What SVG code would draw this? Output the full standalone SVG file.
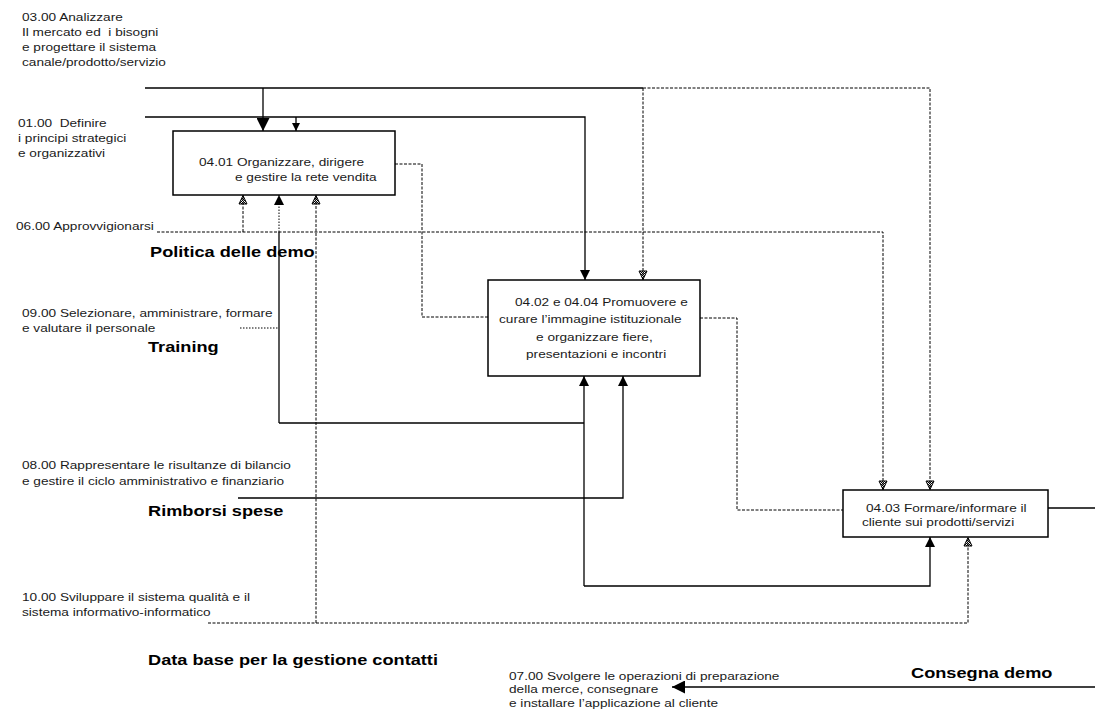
<svg xmlns="http://www.w3.org/2000/svg" width="1095" height="714" viewBox="0 0 1095 714">
<style>
.t{font-family:"Liberation Sans",Arial,sans-serif;font-size:10.5px;fill:#1a1a1a}
.b{font-family:"Liberation Sans",Arial,sans-serif;font-size:14px;font-weight:bold;fill:#000}
.box{fill:#fff;stroke:#000;stroke-width:1.5}
.s{fill:none;stroke:#000;stroke-width:1.3}
.d{fill:none;stroke:#000;stroke-width:1;stroke-dasharray:3 1.5}
.o{fill:none;stroke:#000;stroke-width:1;stroke-dasharray:1.5 1.5}
</style>
<defs>
<pattern id="hatch" patternUnits="userSpaceOnUse" width="2" height="2"><rect x="0" y="0" width="1" height="1" fill="#000"/><rect x="1" y="1" width="1" height="1" fill="#000"/></pattern>
<marker id="aS" viewBox="0 0 10 10" refX="10" refY="5" markerWidth="10" markerHeight="10" markerUnits="userSpaceOnUse" orient="auto"><path d="M0,0L10,5L0,10z" fill="#000"/></marker>
<marker id="aB" viewBox="0 0 10 10" refX="10" refY="5" markerWidth="13" markerHeight="13" markerUnits="userSpaceOnUse" orient="auto"><path d="M0,0L10,5L0,10z" fill="#000"/></marker>
<marker id="aSm" viewBox="0 0 10 10" refX="10" refY="5" markerWidth="8" markerHeight="8" markerUnits="userSpaceOnUse" orient="auto"><path d="M0,0L10,5L0,10z" fill="#000"/></marker>
<marker id="aH" viewBox="0 0 10 10" refX="10" refY="5" markerWidth="10" markerHeight="10" markerUnits="userSpaceOnUse" orient="auto"><path d="M1,1L9.5,5L1,9z" fill="url(#hatch)" stroke="#000" stroke-width="1"/></marker>
</defs>
<rect width="1095" height="714" fill="#fff"/>

<g id="connectors">
<path class="s" d="M145,88H643"/>
<path class="d" d="M643,88H930V490" marker-end="url(#aH)"/>
<path class="d" d="M643,88V280" marker-end="url(#aH)"/>
<path class="s" d="M263,88V131" marker-end="url(#aB)"/>
<path class="s" d="M145,117H585V280" marker-end="url(#aS)"/>
<path class="s" d="M296,117V131" marker-end="url(#aSm)"/>
<path class="d" d="M395,164H422V317H488"/>
<path class="d" d="M157,232H883V490" marker-end="url(#aH)"/>
<path class="d" d="M243,232V195" marker-end="url(#aH)"/>
<path class="o" d="M240,328H279"/>
<path class="s" d="M279,423V232"/>
<path class="o" d="M279,232V195" marker-end="url(#aS)"/>
<path class="s" d="M279,423H584"/>
<path class="s" d="M584,586V376" marker-end="url(#aS)"/>
<path class="s" d="M584,586H930V537" marker-end="url(#aS)"/>
<path class="s" d="M238,498H623V376" marker-end="url(#aS)"/>
<path class="d" d="M208,623H968V537" marker-end="url(#aH)"/>
<path class="d" d="M316,623V195" marker-end="url(#aH)"/>
<path class="d" d="M700,318H737V510H843"/>
<path class="s" d="M1048,508H1095"/>
<path class="s" d="M1095,687H672" marker-end="url(#aB)"/>
</g>

<g id="n0401">
<rect class="box" x="173" y="131" width="222" height="64"/>
<text class="t" transform="translate(199,166) scale(1.3,1)"><tspan x="0">04.01 Organizzare, dirigere</tspan><tspan x="27.7" dy="15">e gestire la rete vendita</tspan></text>
</g>
<g id="n0402">
<rect class="box" x="488" y="280" width="212" height="96"/>
<text class="t" transform="translate(515,306) scale(1.3,1)"><tspan x="0">04.02 e 04.04 Promuovere e</tspan><tspan x="-12.3" dy="17">curare l’immagine istituzionale</tspan><tspan x="16.2" dy="18">e organizzare fiere,</tspan><tspan x="8.5" dy="17">presentazioni e incontri</tspan></text>
</g>
<g id="n0403">
<rect class="box" x="843" y="490" width="205" height="47"/>
<text class="t" transform="translate(866,512) scale(1.3,1)"><tspan x="0">04.03 Formare/informare il</tspan><tspan x="-3.1" dy="14">cliente sui prodotti/servizi</tspan></text>
</g>

<g id="n0300"><text class="t" xml:space="preserve" transform="translate(22,21) scale(1.3,1)"><tspan x="0">03.00 Analizzare</tspan><tspan x="0" dy="15">Il mercato ed  i bisogni</tspan><tspan x="0" dy="15">e progettare il sistema</tspan><tspan x="0" dy="15">canale/prodotto/servizio</tspan></text></g>
<g id="n0100"><text class="t" xml:space="preserve" transform="translate(18,127) scale(1.3,1)"><tspan x="0">01.00  Definire</tspan><tspan x="0" dy="15">i principi strategici</tspan><tspan x="0" dy="15">e organizzativi</tspan></text></g>
<g id="n0600"><text class="t" transform="translate(16,230) scale(1.3,1)">06.00 Approvvigionarsi</text></g>
<g id="n0900"><text class="t" transform="translate(22,317) scale(1.3,1)"><tspan x="0">09.00 Selezionare, amministrare, formare</tspan><tspan x="0" dy="15">e valutare il personale</tspan></text></g>
<g id="n0800"><text class="t" transform="translate(22,469) scale(1.3,1)"><tspan x="0">08.00 Rappresentare le risultanze di bilancio</tspan><tspan x="0" dy="16">e gestire il ciclo amministrativo e finanziario</tspan></text></g>
<g id="n1000"><text class="t" transform="translate(22,601) scale(1.3,1)"><tspan x="0">10.00 Sviluppare il sistema qualità e il</tspan><tspan x="0" dy="15">sistema informativo-informatico</tspan></text></g>
<g id="n0700"><text class="t" transform="translate(509,680) scale(1.3,1)"><tspan x="0">07.00 Svolgere le operazioni di preparazione</tspan><tspan x="0" dy="13.5">della merce, consegnare</tspan><tspan x="0" dy="13.5">e installare l’applicazione al cliente</tspan></text></g>

<g id="labels">
<text class="b" transform="translate(150,257) scale(1.3,1)">Politica delle demo</text>
<text class="b" transform="translate(148,352) scale(1.3,1)">Training</text>
<text class="b" transform="translate(148,516) scale(1.3,1)">Rimborsi spese</text>
<text class="b" transform="translate(148,665) scale(1.3,1)">Data base per la gestione contatti</text>
<text class="b" transform="translate(911,678) scale(1.3,1)">Consegna demo</text>
</g>
</svg>
